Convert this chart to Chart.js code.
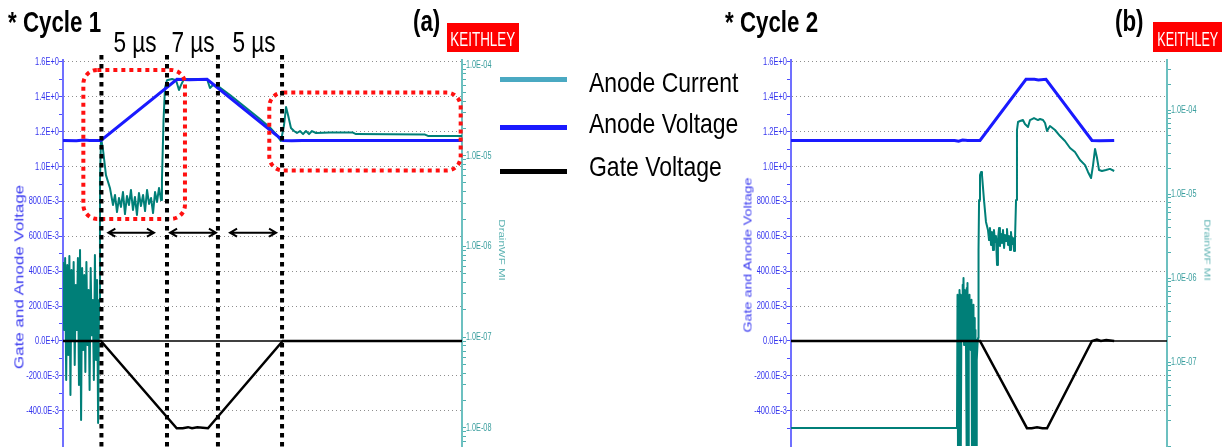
<!DOCTYPE html>
<html lang="en">
<head>
<meta charset="utf-8">
<title>Anode switching cycles</title>
<script src="https://cdn.jsdelivr.net/npm/chart.js@4.4.1/dist/chart.umd.min.js"></script>
<style>
    html, body { margin: 0; padding: 0; background: #fff; }
    #page { position: relative; width: 1228px; height: 448px; overflow: hidden;
            font-family: "Liberation Sans", Arial, sans-serif; }
    #page canvas { position: absolute; top: 0; }
    .txt { position: absolute; white-space: nowrap; line-height: 1; color: #000; }
    .head { font-size: 29px; font-weight: bold; transform: scaleX(0.77); transform-origin: 0 0; }
    .span { font-size: 29px; transform: translateX(-50%) scaleX(0.78); transform-origin: 50% 50%; }
    .key { font-size: 28px; transform: scaleX(0.82); transform-origin: 0 0; }
    .swatch { position: absolute; left: 500px; width: 67px; height: 5px; }
    .brand { position: absolute; background: #ff0000; display: flex; align-items: center;
             justify-content: center; overflow: hidden; }
    .brand span { color: #fff; font-size: 21px; line-height: 1; display: inline-block;
                  padding-top: 2px; }
    .axt { position: absolute; white-space: nowrap; line-height: 1; transform-origin: 50% 50%; }
</style>
</head>
<body>
<div id="page">
    <canvas id="cycle1" width="530" height="448" style="left:0"></canvas>
    <canvas id="cycle2" width="498" height="448" style="left:730px"></canvas>

    <div class="txt head" style="left:8px;top:8px">* Cycle 1</div>
    <div class="txt head" style="left:413px;top:7px">(a)</div>
    <div class="brand" style="left:447px;top:23px;width:72px;height:29px"><span style="transform:scaleX(0.64)">KEITHLEY</span></div>

    <div class="txt head" style="left:725px;top:8px">* Cycle 2</div>
    <div class="txt head" style="left:1115px;top:7px">(b)</div>
    <div class="brand" style="left:1153px;top:22px;width:69px;height:30px"><span style="transform:scaleX(0.6)">KEITHLEY</span></div>

    <div class="txt span" style="left:135px;top:28px">5 µs</div>
    <div class="txt span" style="left:193px;top:28px">7 µs</div>
    <div class="txt span" style="left:254px;top:28px">5 µs</div>

    <div class="swatch" style="top:77px;background:#4aa9c2"></div>
    <div class="swatch" style="top:125px;background:#1a1aff"></div>
    <div class="swatch" style="top:169px;background:#000"></div>
    <div class="txt key" style="left:589px;top:69px">Anode Current</div>
    <div class="txt key" style="left:589px;top:110px">Anode Voltage</div>
    <div class="txt key" style="left:589px;top:153px">Gate Voltage</div>

    <div class="axt" style="left:19px;top:277px;font-size:17px;color:#3c3cf0;transform:translate(-50%,-50%) rotate(-90deg) scaleY(0.8)">Gate and Anode Voltage</div>
    <div class="axt" style="left:502px;top:250px;font-size:11.5px;color:#5fb3b3;transform:translate(-50%,-50%) rotate(90deg) scaleY(0.8)">DrainWF MI</div>
    <div class="axt" style="left:748px;top:255px;font-size:14.3px;color:#3c3cf0;transform:translate(-50%,-50%) rotate(-90deg) scaleY(0.8)">Gate and Anode Voltage</div>
    <div class="axt" style="left:1207px;top:250px;font-size:11.5px;color:#5fb3b3;transform:translate(-50%,-50%) rotate(90deg) scaleY(0.8)">DrainWF MI</div>
</div>

<script>
(function () {
    // ---------------------------------------------------------------
    // Two switching cycles captured on the Keithley scope.
    // Time is in µs, voltages in V, anode current in A (log axis).
    // ---------------------------------------------------------------

    // Axis ticks shared by both panels
    var voltTicks = [-0.4, -0.2, 0, 0.2, 0.4, 0.6, 0.8, 1.0, 1.2, 1.4, 1.6];
    var voltTickLabels = ['-400.0E-3', '-200.0E-3', '0.0E+0', '200.0E-3', '400.0E-3', '600.0E-3',
        '800.0E-3', '1.0E+0', '1.2E+0', '1.4E+0', '1.6E+0'];
    var voltMinorTicks = [-0.5, -0.3, -0.1, 0.1, 0.3, 0.5, 0.7, 0.9, 1.1, 1.3, 1.5];
    var currentTicks = [1e-8, 1e-7, 1e-6, 1e-5, 1e-4];
    var currentTickLabels = ['1.0E-08', '1.0E-07', '1.0E-06', '1.0E-05', '1.0E-04'];

    // ---- Cycle 1 ----
    var c1CurrentT = [0.00, 0.08, 0.16, 0.24, 0.32, 0.40, 0.48, 0.56, 0.64, 0.72, 0.80, 0.88, 0.96,
        1.04, 1.12, 1.20, 1.28, 1.36, 1.44, 1.52, 1.60, 1.68, 1.76, 1.84, 1.92, 2.00, 2.08, 2.16,
        2.24, 2.32, 2.40, 2.48, 2.56, 2.64, 2.71, 2.78, 2.86, 3.01, 3.23, 3.53,
        3.76, 3.91, 4.06, 4.21, 4.36, 4.51, 4.66, 4.81, 4.96, 5.11, 5.26, 5.41, 5.56, 5.71, 5.86,
        6.02, 6.17, 6.32, 6.47, 6.62, 6.77, 6.92, 7.07, 7.22, 7.37, 7.44, 7.56, 7.67, 7.82, 8.20,
        8.50, 8.72, 8.87, 9.10, 10.83, 11.05, 11.28, 11.65, 12.56, 13.31, 14.06, 14.81, 15.56,
        16.02, 16.39, 16.62, 16.77, 16.92, 17.14, 17.37, 17.59, 17.82, 18.05, 18.27, 18.50, 18.72,
        19.02, 20.08, 21.80, 22.03, 27.22, 27.44, 30.00];
    var c1Current = [6.73e-7, 1.20e-7, 7.45e-7, 3.37e-8, 6.24e-7, 6.35e-8, 7.84e-7, 2.30e-8, 5.50e-7,
        9.29e-8, 6.73e-7, 4.92e-8, 3.75e-7, 1.20e-7, 7.45e-7, 2.96e-8, 9.12e-7, 1.22e-8, 5.78e-7,
        7.21e-8, 4.84e-7, 4.12e-8, 6.73e-7, 8.18e-8, 3.30e-7, 2.61e-8, 5.78e-7, 1.05e-7, 2.56e-7,
        3.37e-8, 8.04e-7, 5.60e-8, 4.26e-7, 1.13e-8, 2.56e-7, 5.4e-6, 1.57e-5, 1.16e-5, 6.1e-6, 4.41e-6,
        2.86e-6, 3.69e-6, 2.39e-6, 3.42e-6, 2.72e-6, 3.98e-6, 2.27e-6, 3.60e-6, 2.86e-6, 4.19e-6,
        2.52e-6, 3.51e-6, 2.22e-6, 3.88e-6, 2.79e-6, 3.69e-6, 2.45e-6, 4.19e-6, 2.94e-6, 3.42e-6,
        2.33e-6, 3.98e-6, 3.09e-6, 4.41e-6, 3.25e-6, 5.4e-6, 2.48e-5, 5.6e-5, 6.8e-5, 7.0e-5,
        6.8e-5, 5.3e-5, 6.0e-5, 7.0e-5, 7.0e-5, 5.58e-5, 6.02e-5, 5.87e-5, 4.67e-5, 3.81e-5, 3.11e-5,
        2.54e-5, 2.05e-5, 1.73e-5, 1.45e-5, 2.18e-5, 3.44e-5, 2.81e-5, 2.02e-5, 1.87e-5, 1.78e-5,
        1.87e-5, 1.73e-5, 1.87e-5, 1.73e-5, 1.87e-5, 1.78e-5, 1.80e-5, 1.80e-5, 1.73e-5, 1.71e-5,
        1.65e-5, 1.65e-5];
    var c1AnodeT = [0, 1.0, 1.6, 2.0, 2.85, 8.57, 9.5, 10.83, 16.54, 17.2, 18.0, 30];
    var c1AnodeV = [1.15, 1.148, 1.152, 1.15, 1.15, 1.50, 1.498, 1.50, 1.15, 1.148, 1.15, 1.15];
    var c1GateT = [0, 2.85, 8.55, 9.0, 9.4, 9.7, 10.1, 10.9, 16.52, 30];
    var c1GateV = [0, 0, -0.5, -0.5, -0.494, -0.5, -0.495, -0.5, 0, 0];

    // ---- Cycle 2 ----
    var c2CurrentT = [0.00, 12.48, 12.52, 12.56, 12.59, 12.63, 12.67, 12.71, 12.74, 12.78, 12.82,
        12.86, 12.89, 12.93, 12.97, 13.01, 13.05, 13.08, 13.12, 13.16, 13.20, 13.23, 13.27, 13.31,
        13.35, 13.38, 13.42, 13.46, 13.50, 13.53, 13.57, 13.61, 13.65, 13.68, 13.72, 13.76, 13.80,
        13.83, 13.87, 13.91, 13.95, 13.98, 14.02, 14.06, 14.10, 14.14, 14.21, 14.29, 14.36, 14.51,
        14.66, 14.81, 14.89, 14.96, 15.04, 15.11, 15.19, 15.26, 15.34, 15.41, 15.49, 15.56, 15.64,
        15.71, 15.79, 15.86, 15.94, 16.02, 16.09, 16.17, 16.24, 16.32, 16.39, 16.47, 16.54, 16.62,
        16.69, 16.77, 16.84, 16.92, 16.99, 17.07, 17.22, 17.44, 17.59, 17.82, 17.97, 18.27, 18.57,
        18.72, 18.95, 19.10, 19.25, 19.47, 19.85, 20.23, 20.60, 20.98, 21.35, 21.73, 22.11, 22.33,
        22.56, 22.71, 22.86, 23.01, 23.16, 23.38, 23.68, 23.98, 24.30];
    var c2Current = [1.64e-8, 1.64e-8, 6.3e-7, 5e-9, 5.5e-7, 5e-9, 7.2e-7, 2.41e-7, 6.3e-7, 5e-9,
        5.5e-7, 1.83e-7, 8.3e-7, 2.10e-7, 1.0e-6, 1.59e-7, 7.2e-7, 1.83e-7, 6.1e-7, 1.39e-7, 7.6e-7,
        5e-9, 8.7e-7, 5e-9, 5.5e-7, 1.59e-7, 6.3e-7, 1.93e-7, 4.8e-7, 1.39e-7, 5.5e-7, 5e-9, 4.16e-7,
        5e-9, 4.8e-7, 5e-9, 3.34e-7, 1.21e-7, 2.41e-7, 5e-9, 1.83e-7, 1.06e-7, 1.59e-7, 1.93e-7,
        2.15e-6, 8.5e-6, 1.68e-5, 1.83e-5, 1.68e-5, 8.5e-6, 4.65e-6, 3.73e-6, 2.83e-6, 3.94e-6,
        2.47e-6, 3.53e-6, 2.15e-6, 3.73e-6, 2.68e-6, 3.16e-6, 1.43e-6, 2.83e-6, 3.94e-6, 2.40e-6,
        3.34e-6, 2.61e-6, 3.73e-6, 2.28e-6, 3.25e-6, 2.75e-6, 3.83e-6, 2.47e-6, 3.16e-6, 2.15e-6,
        3.53e-6, 2.54e-6, 2.99e-6, 2.10e-6, 2.83e-6, 8.5e-6, 5.78e-5, 7.20e-5, 7.40e-5, 7.60e-5,
        6.81e-5, 6.28e-5, 7.60e-5, 8.03e-5, 7.60e-5, 7.82e-5, 7.60e-5, 7.00e-5, 5.62e-5, 6.45e-5,
        5.78e-5, 4.90e-5, 4.28e-5, 3.53e-5, 3.16e-5, 2.54e-5, 2.21e-5, 1.83e-5, 1.55e-5, 2.21e-5,
        3.44e-5, 2.68e-5, 1.93e-5, 1.88e-5, 1.93e-5, 1.99e-5, 1.88e-5];
    var c2AnodeT = [0, 12.3, 12.6, 12.9, 13.3, 14.21, 17.67, 18.3, 18.6, 19.17, 22.63, 23.2, 24.3];
    var c2AnodeV = [1.15, 1.15, 1.146, 1.152, 1.15, 1.15, 1.50, 1.50, 1.497, 1.50, 1.15, 1.148, 1.15];
    var c2GateT = [0, 14.21, 17.74, 18.1, 18.5, 18.9, 19.25, 22.63, 23.0, 23.3, 23.7, 24.3];
    var c2GateV = [0, 0, -0.5, -0.5, -0.495, -0.5, -0.5, 0, 0.008, 0, 0.006, 0];

    // Markers on cycle 1: phase boundaries, phase spans and highlighted regions
    var c1Phases = [2.89, 7.82, 11.65, 16.47];
    var c1Spans = [[3.41, 6.84], [8.05, 11.5], [12.56, 16.02]];
    var c1SpanLevel = 0.621;
    var c1Boxes = [[1.53, 9.17, 0.70, 1.554], [15.51, 29.9, 0.977, 1.424]];

    function pairs(t, v) {
        return t.map(function (x, i) { return { x: x, y: v[i] }; });
    }

    function isLabelled(v) {
        return voltTicks.some(function (t) { return Math.abs(t - v) < 1e-6; });
    }

    // Text squeezed horizontally like the scope export font
    function squeezedText(ctx, text, x, y, align, k) {
        ctx.save();
        ctx.translate(x, y);
        ctx.scale(k, 1);
        ctx.textAlign = align;
        ctx.fillText(text, 0, 0);
        ctx.restore();
    }

    // Tick labels for both y axes
    var axisTextPlugin = {
        id: 'axisText',
        afterDraw: function (chart) {
            var ctx = chart.ctx;
            var area = chart.chartArea;
            var yV = chart.scales.yV;
            var yI = chart.scales.yI;
            ctx.save();
            ctx.font = '11px "Liberation Sans", Arial, sans-serif';
            ctx.textBaseline = 'middle';
            ctx.fillStyle = '#3434ee';
            voltTicks.forEach(function (v, i) {
                squeezedText(ctx, voltTickLabels[i], area.left - 4, yV.getPixelForValue(v), 'right', 0.68);
            });
            ctx.fillStyle = '#3a9e9e';
            currentTicks.forEach(function (v, i) {
                var py = yI.getPixelForValue(v);
                if (py < area.top || py > area.bottom - 5) {
                    return;
                }
                squeezedText(ctx, currentTickLabels[i], area.right + 4, py, 'left', 0.66);
            });
            ctx.restore();
        }
    };

    function roundRect(ctx, x0, y0, x1, y1, r) {
        ctx.beginPath();
        ctx.moveTo(x0 + r, y0);
        ctx.arcTo(x1, y0, x1, y1, r);
        ctx.arcTo(x1, y1, x0, y1, r);
        ctx.arcTo(x0, y1, x0, y0, r);
        ctx.arcTo(x0, y0, x1, y0, r);
        ctx.closePath();
    }

    // Zero reference line plus the optional phase markers
    function markupPlugin(marks) {
        return {
            id: 'markup',
            beforeDatasetsDraw: function (chart) {
                var ctx = chart.ctx;
                var area = chart.chartArea;
                var y0 = chart.scales.yV.getPixelForValue(0);
                ctx.save();
                ctx.strokeStyle = '#000';
                ctx.lineWidth = 1.3;
                ctx.beginPath();
                ctx.moveTo(area.left, y0);
                ctx.lineTo(area.right, y0);
                ctx.stroke();
                ctx.restore();
            },
            afterDatasetsDraw: function (chart) {
                if (!marks) {
                    return;
                }
                var ctx = chart.ctx;
                var sx = chart.scales.x;
                var sy = chart.scales.yV;
                ctx.save();

                // red dotted highlight boxes
                ctx.strokeStyle = '#ff1010';
                ctx.lineWidth = 4;
                ctx.setLineDash([4, 4]);
                marks.boxes.forEach(function (b) {
                    roundRect(ctx, sx.getPixelForValue(b[0]), sy.getPixelForValue(b[3]),
                        sx.getPixelForValue(b[1]), sy.getPixelForValue(b[2]), 14);
                    ctx.stroke();
                });

                // black dotted phase boundaries
                ctx.strokeStyle = '#000';
                ctx.setLineDash([4.5, 4.5]);
                marks.phases.forEach(function (t) {
                    var px = sx.getPixelForValue(t);
                    ctx.beginPath();
                    ctx.moveTo(px, sy.getPixelForValue(1.64));
                    ctx.lineTo(px, chart.chartArea.bottom + 2);
                    ctx.stroke();
                });

                // double arrows for each phase
                ctx.setLineDash([]);
                ctx.lineWidth = 2;
                var py = sy.getPixelForValue(marks.level);
                marks.spans.forEach(function (s) {
                    var x1 = sx.getPixelForValue(s[0]);
                    var x2 = sx.getPixelForValue(s[1]);
                    ctx.beginPath();
                    ctx.moveTo(x1, py);
                    ctx.lineTo(x2, py);
                    ctx.moveTo(x1 + 7, py - 4);
                    ctx.lineTo(x1, py);
                    ctx.lineTo(x1 + 7, py + 4);
                    ctx.moveTo(x2 - 7, py - 4);
                    ctx.lineTo(x2, py);
                    ctx.lineTo(x2 - 7, py + 4);
                    ctx.stroke();
                });
                ctx.restore();
            }
        };
    }

    function makeCycle(id, cfg) {
        var canvas = document.getElementById(id);
        return new Chart(canvas.getContext('2d'), {
            type: 'line',
            data: {
                datasets: [{
                    label: 'Gate Voltage',
                    data: pairs(cfg.gateT, cfg.gateV),
                    yAxisID: 'yV',
                    borderColor: '#000000',
                    borderWidth: 2.5,
                    order: 1
                }, {
                    label: 'Anode Voltage',
                    data: pairs(cfg.anodeT, cfg.anodeV),
                    yAxisID: 'yV',
                    borderColor: '#1a1aff',
                    borderWidth: 3,
                    order: 2
                }, {
                    label: 'Anode Current',
                    data: pairs(cfg.currentT, cfg.current),
                    yAxisID: 'yI',
                    borderColor: '#007f78',
                    borderWidth: 2,
                    borderJoinStyle: 'round',
                    order: 3
                }]
            },
            options: {
                responsive: false,
                animation: false,
                events: [],
                layout: { padding: { top: 60, bottom: 2, left: 0, right: 0 } },
                elements: { point: { radius: 0 }, line: { tension: 0 } },
                plugins: { legend: { display: false }, tooltip: { enabled: false } },
                scales: {
                    x: { type: 'linear', display: false, min: 0, max: cfg.tMax },
                    yV: {
                        type: 'linear',
                        position: 'left',
                        min: -0.602,
                        max: 1.611,
                        afterBuildTicks: function (axis) {
                            axis.ticks = voltTicks.concat(voltMinorTicks).sort(function (a, b) { return a - b; })
                                .map(function (v) { return { value: v }; });
                        },
                        afterFit: function (axis) { axis.width = cfg.leftWidth; },
                        ticks: { display: false },
                        grid: {
                            color: function (c) {
                                var v = c.tick ? c.tick.value : 0;
                                return isLabelled(v) && Math.abs(v) > 1e-6 ? '#8e8e8e' : 'rgba(0,0,0,0)';
                            },
                            lineWidth: 1,
                            tickColor: '#4d4dff',
                            tickLength: 4,
                            tickWidth: 1
                        },
                        border: { display: true, color: '#7070ff', width: 2, dash: [1, 3] }
                    },
                    yI: {
                        type: 'logarithmic',
                        position: 'right',
                        min: cfg.iMin,
                        max: cfg.iMax,
                        afterBuildTicks: function (axis) {
                            var list = [];
                            for (var e = -9; e <= -3; e++) {
                                for (var m = 1; m <= 9; m++) {
                                    var v = m * Math.pow(10, e);
                                    if (v >= cfg.iMin && v <= cfg.iMax) {
                                        list.push({ value: v });
                                    }
                                }
                            }
                            axis.ticks = list;
                        },
                        afterFit: function (axis) { axis.width = cfg.rightWidth; },
                        ticks: { display: false },
                        grid: {
                            drawOnChartArea: false,
                            tickColor: '#4fb0b0',
                            tickLength: 4,
                            tickWidth: 1
                        },
                        border: { display: true, color: '#6cc0c0', width: 2 }
                    }
                }
            },
            plugins: [axisTextPlugin, markupPlugin(cfg.marks)]
        });
    }

    makeCycle('cycle1', {
        currentT: c1CurrentT, current: c1Current,
        anodeT: c1AnodeT, anodeV: c1AnodeV,
        gateT: c1GateT, gateV: c1GateV,
        tMax: 30, iMin: 6.3e-9, iMax: 1.135e-4,
        leftWidth: 63, rightWidth: 68,
        marks: { phases: c1Phases, spans: c1Spans, level: c1SpanLevel, boxes: c1Boxes }
    });

    makeCycle('cycle2', {
        currentT: c2CurrentT, current: c2Current,
        anodeT: c2AnodeT, anodeV: c2AnodeV,
        gateT: c2GateT, gateV: c2GateV,
        tMax: 28.27, iMin: 1.0e-8, iMax: 3.94e-4,
        leftWidth: 61, rightWidth: 61,
        marks: null
    });
})();
</script>
</body>
</html>
